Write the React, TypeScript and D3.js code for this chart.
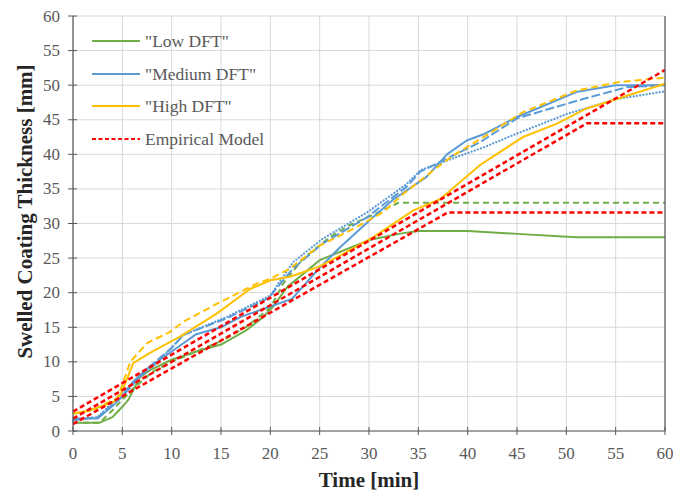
import React from "react";
import * as d3 from "d3";

type P = [number, number];

const xTicks = [0, 5, 10, 15, 20, 25, 30, 35, 40, 45, 50, 55, 60];
const yTicks = [0, 5, 10, 15, 20, 25, 30, 35, 40, 45, 50, 55, 60];

const legendLabels = ['"Low DFT"', '"Medium DFT"', '"High DFT"', "Empirical Model"];

const lowSolid: P[] = [
  [0, 1.2], [2.7, 1.2], [4, 2], [5, 3.5], [5.6, 4.5], [6.8, 7.8], [7.8, 8.8], [10, 10.3],
  [12.5, 11.5], [15, 12.5], [17.5, 14.5], [19.3, 16.5], [20.3, 18], [21.7, 20.8], [25, 24.7],
  [30, 27.6], [33, 28.5], [35, 28.9], [40, 28.9], [45, 28.5], [51, 28], [60, 28],
];
const lowDashed: P[] = [
  [0, 1.2], [2.7, 1.2], [4, 3], [5, 4.5], [6, 6], [8, 8.5], [10, 10], [12.5, 11.5], [15, 13],
  [17.5, 15], [20, 17.8], [21.3, 21.3], [23.3, 24.9], [26, 28], [28.1, 29.8], [30, 31],
  [33, 33], [60, 33],
];
const medSolid: P[] = [
  [0, 1.8], [2.5, 1.8], [4, 3.6], [5, 5], [6, 7], [7.5, 9], [10, 11.5], [12.5, 14], [15, 15],
  [17, 16.5], [20, 18], [22.2, 19.1], [25, 23.6], [27.1, 26.6], [30.4, 30.9], [32.5, 33.5],
  [35.8, 36.7], [37.9, 40], [39.9, 42], [41.6, 42.9], [45, 45.4], [51, 49], [55, 50], [60, 50],
];
const medDashed: P[] = [
  [0, 1.6], [2.5, 2], [5, 5], [7.5, 9], [10, 12], [11.2, 13.9], [15.6, 16.3], [19.8, 19.2],
  [22.3, 23.5], [25.3, 27.1], [29.8, 30.9], [33.8, 35.3], [35.2, 37.5], [37.2, 38.9],
  [41.2, 41.7], [45, 45.2], [51.7, 48], [56.1, 49.7], [60, 50],
];
const medDotted: P[] = [
  [0, 1.5], [2.5, 2], [5, 5.5], [6.4, 7.4], [8.5, 9.8], [11.2, 13.9], [15.6, 16.5], [20, 19.6],
  [22.3, 24.4], [25.3, 27.8], [29.8, 31.6], [33.8, 35.7], [35.2, 37.7], [37.9, 39.1],
  [41.6, 41], [45, 43], [50, 45.8], [55.1, 48], [60, 49.1],
];
const highSolid: P[] = [
  [0, 2.5], [1.7, 3], [4.1, 4.2], [4.8, 5.2], [5.3, 6.9], [6.1, 9.8], [7.8, 11.3], [10.8, 13.6],
  [14.6, 17], [17.9, 20.5], [20, 21.8], [22, 22.3], [25, 23.8], [27.1, 25.4], [30.4, 28],
  [34.5, 31.9], [37.2, 33.5], [41.2, 38.4], [45.6, 42.5], [49, 44.4], [52, 46.6], [55.1, 48],
  [60, 50.2],
];
const highDashed: P[] = [
  [0, 2.5], [2, 3], [4.5, 4.8], [5.1, 7.1], [5.8, 10], [7.5, 12.7], [9.8, 14.3], [11.2, 15.8],
  [14.6, 18.4], [18.6, 21.3], [20, 22], [22, 23.5], [25, 26.8], [28.1, 29], [31.4, 31.6],
  [33.5, 34.3], [36.9, 38.1], [38.5, 39.8], [41.6, 42.5], [45.6, 46.1], [51, 49.2],
  [55.1, 50.4], [60, 51.1],
];
const modelLow: P[] = [[0, 1.0], [38, 31.6], [60, 31.6]];
const modelMed: P[] = [[0, 1.8], [52.1, 44.5], [60, 44.5]];
const modelHigh: P[] = [[0, 2.8], [60, 52.2]];

const GREEN = "#70AD47";
const BLUE = "#5B9BD5";
const YELLOW = "#FFC000";
const RED = "#FF0000";

const series = [
  { data: lowSolid, color: GREEN, dash: undefined, w: 2 },
  { data: lowDashed, color: GREEN, dash: "6 4", w: 2 },
  { data: medDotted, color: BLUE, dash: "0.1 3.2", w: 2.2 },
  { data: medDashed, color: BLUE, dash: "9 3", w: 2 },
  { data: medSolid, color: BLUE, dash: undefined, w: 2 },
  { data: highDashed, color: YELLOW, dash: "7 4", w: 2 },
  { data: highSolid, color: YELLOW, dash: undefined, w: 2 },
  { data: modelLow, color: RED, dash: "5 3", w: 2.5 },
  { data: modelMed, color: RED, dash: "5 3", w: 2.5 },
  { data: modelHigh, color: RED, dash: "5 3", w: 2.5 },
];

const legendStyles = [
  { color: GREEN, dash: undefined, w: 2 },
  { color: BLUE, dash: undefined, w: 2 },
  { color: YELLOW, dash: undefined, w: 2 },
  { color: RED, dash: "4 2.5", w: 2 },
];

export default function App() {
  const W = 673, H = 493;
  const left = 73, right = 665, top = 16, bottom = 431;
  const x = d3.scaleLinear().domain([0, 60]).range([left, right]);
  const y = d3.scaleLinear().domain([0, 60]).range([bottom, top]);
  const line = d3.line<P>().x((d) => x(d[0])).y((d) => y(d[1]));
  const font = "'Liberation Serif', 'Times New Roman', serif";
  const axisColor = "#595959";
  const legendY = [41, 74, 106, 139];

  return (
    <svg width={W} height={H} style={{ position: "absolute", left: 0, top: 0, background: "#fff" }}>
      <rect width={W} height={H} fill="#fff" />
      {xTicks.map((t) => (
        <line key={"gx" + t} x1={x(t)} x2={x(t)} y1={top} y2={bottom} stroke="#d9d9d9" strokeWidth={1} />
      ))}
      {yTicks.map((t) => (
        <line key={"gy" + t} x1={left} x2={right} y1={y(t)} y2={y(t)} stroke="#d9d9d9" strokeWidth={1} />
      ))}
      {series.map((s, i) => (
        <path key={"s" + i} d={line(s.data) || ""} fill="none" stroke={s.color} strokeWidth={s.w}
          strokeDasharray={s.dash} strokeLinejoin="round" strokeLinecap={s.dash === "0.1 3.2" ? "round" : "butt"} />
      ))}
      <line x1={left} x2={left} y1={top} y2={bottom} stroke={axisColor} strokeWidth={1.2} />
      <line x1={left} x2={right} y1={bottom} y2={bottom} stroke={axisColor} strokeWidth={1.2} />
      <line x1={right} x2={right} y1={top} y2={bottom} stroke={axisColor} strokeWidth={1.2} />
      {xTicks.map((t) => (
        <line key={"tx" + t} x1={x(t)} x2={x(t)} y1={bottom - 4} y2={bottom + 4} stroke={axisColor} strokeWidth={1} />
      ))}
      {yTicks.map((t) => (
        <line key={"ty" + t} x1={left - 5} x2={left + 4} y1={y(t)} y2={y(t)} stroke={axisColor} strokeWidth={1} />
      ))}
      {xTicks.map((t) => (
        <text key={"lx" + t} x={x(t)} y={bottom + 28} textAnchor="middle" fontFamily={font} fontSize={17} fill={axisColor}>
          {t}
        </text>
      ))}
      {yTicks.map((t) => (
        <text key={"ly" + t} x={left - 13} y={y(t) + 5.5} textAnchor="end" fontFamily={font} fontSize={17} fill={axisColor}>
          {t}
        </text>
      ))}
      <text x={(left + right) / 2} y={487} textAnchor="middle" fontFamily={font} fontSize={21} fontWeight="bold" fill="#262626">
        Time [min]
      </text>
      <text transform={`translate(32, ${(top + bottom) / 2 - 12}) rotate(-90)`} textAnchor="middle" fontFamily={font}
        fontSize={21} fontWeight="bold" fill="#262626">
        Swelled Coating Thickness [mm]
      </text>
      {legendLabels.map((lab, i) => (
        <g key={"lg" + i}>
          <line x1={92} x2={140} y1={legendY[i]} y2={legendY[i]} stroke={legendStyles[i].color}
            strokeWidth={legendStyles[i].w} strokeDasharray={legendStyles[i].dash} />
          <text x={145} y={legendY[i] + 5.5} fontFamily={font} fontSize={17.5} fill={axisColor}>
            {lab}
          </text>
        </g>
      ))}
    </svg>
  );
}
